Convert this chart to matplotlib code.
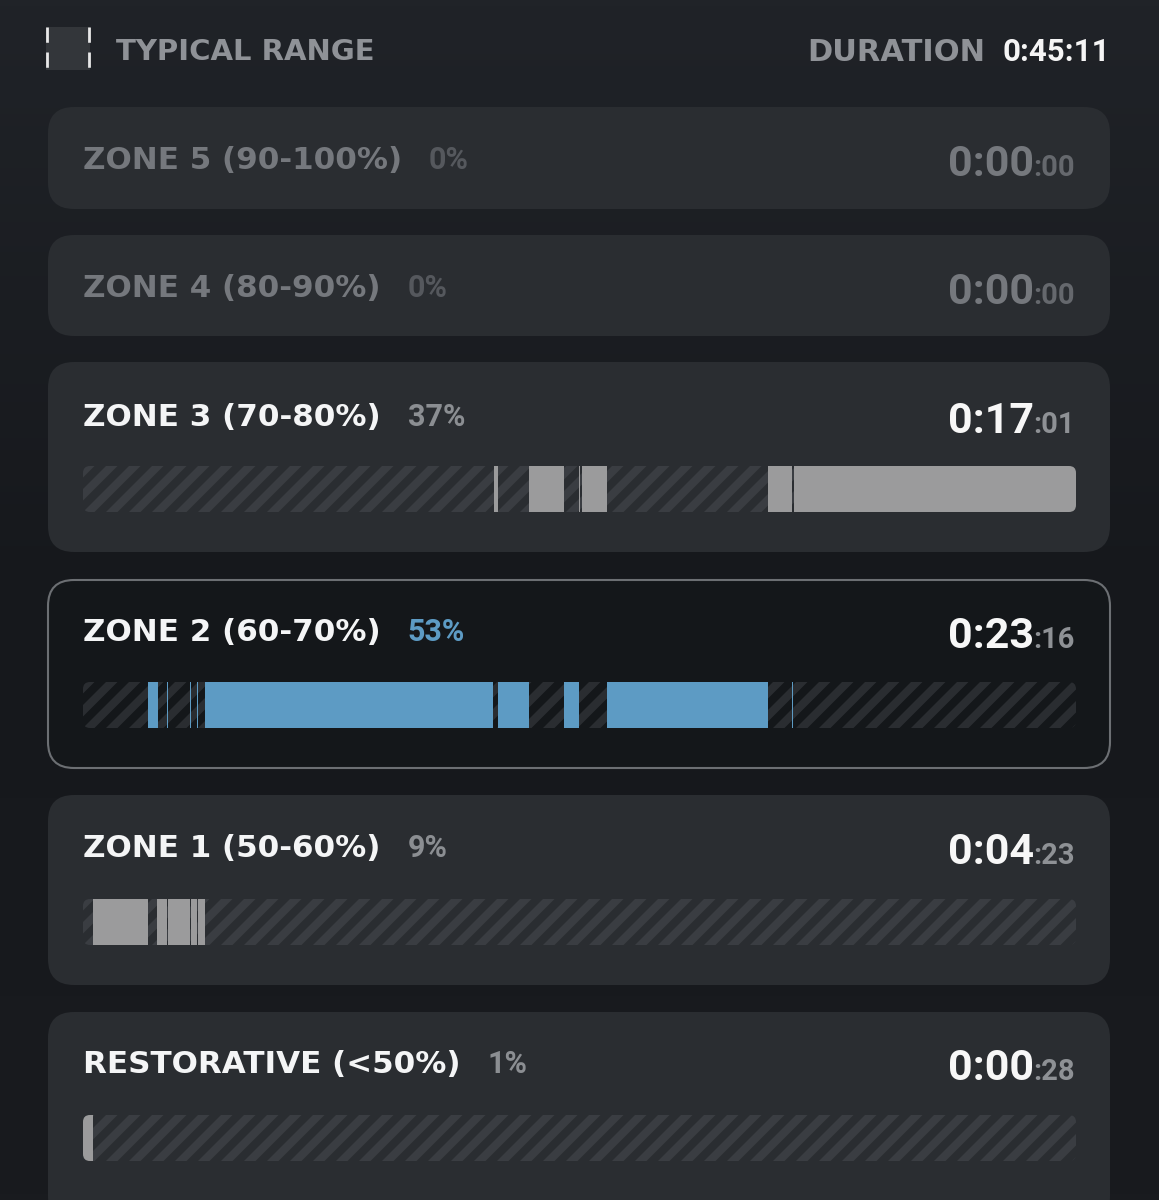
import numpy as np
import matplotlib
matplotlib.use('Agg')
import matplotlib.pyplot as plt
from matplotlib.patches import FancyBboxPatch, Polygon, Rectangle
from matplotlib.colors import LinearSegmentedColormap

# ---- data (seconds) ----
total_sec = 2711  # 0:45:11
zone_names = ['ZONE 5 (90-100%)', 'ZONE 4 (80-90%)', 'ZONE 3 (70-80%)',
              'ZONE 2 (60-70%)', 'ZONE 1 (50-60%)', 'RESTORATIVE (<50%)']
zone_pcts = ['0%', '0%', '37%', '53%', '9%', '1%']
zone_time_main = ['0:00', '0:00', '0:17', '0:23', '0:04', '0:00']
zone_time_sec = [':00', ':00', ':01', ':16', ':23', ':28']

z3_segs = [(1122, 1133), (1218, 1313), (1354, 1358), (1362, 1431),
           (1870, 1937), (1940, 2711)]
z2_segs = [(177, 205), (229, 232), (292, 295), (311, 314), (333, 1119),
           (1133, 1218), (1313, 1354), (1431, 1870), (1936, 1939)]
z1_segs = [(27, 177), (202, 229), (232, 292), (295, 311), (314, 333)]
rest_segs = [(0, 27)]
zone_segs = [None, None, z3_segs, z2_segs, z1_segs, rest_segs]

# ---- layout (pixels) ----
W, H = 1159, 1200
card_x0, card_x1 = 48, 1110
card_y = [(107, 209), (235, 336), (362, 552), (580, 768), (795, 985), (1012, 1222)]
label_base = [169, 297, 426, 641, 857, 1073]
bar_x0, bar_x1 = 83, 1076
bar_top = [None, None, 466, 682, 899, 1115]
bar_h = 46

BG = '#1b1e22'
CARD = '#2a2d31'
CARD_SEL = '#14171a'
GRAY_SEG = '#9b9b9c'
BLUE = '#5d9bc4'
LABEL_FONT = ['DejaVu Sans']
NUM_FONT = ['Roboto', 'DejaVu Sans']

fig = plt.figure(figsize=(W / 100, H / 100), dpi=100)
fig.patch.set_facecolor(BG)
canvas = fig.add_axes([0, 0, 1, 1])
canvas.set_xlim(0, W)
canvas.set_ylim(H, 0)
canvas.axis('off')

grad = np.linspace(0, 1, 200).reshape(-1, 1)
cmap = LinearSegmentedColormap.from_list('bg', ['#202328', '#16181c', '#191b1f'])
canvas.imshow(grad, extent=(0, W, H, 0), aspect='auto', cmap=cmap, zorder=0)

renderer = fig.canvas.get_renderer()


def rbox(x0, y0, x1, y1, r, **kw):
    p = FancyBboxPatch((x0, y0), x1 - x0, y1 - y0,
                       boxstyle='round,pad=0,rounding_size=%s' % r, **kw)
    canvas.add_patch(p)
    return p


def right_x(t):
    return t.get_window_extent(renderer).x1


def left_x(t):
    return t.get_window_extent(renderer).x0


# header
canvas.add_patch(Rectangle((46, 27), 44, 43, facecolor='#33363a', edgecolor='none', zorder=2))
for xx in (47, 89):
    canvas.plot([xx, xx], [27, 70], color='#e8e8e8', lw=2, dashes=(5.5, 3.5), zorder=3)
canvas.text(116, 60, 'TYPICAL RANGE', color='#8f9297', fontsize=21, fontweight='bold',
            family=LABEL_FONT, va='baseline', ha='left', zorder=3)
dur = canvas.text(1110, 61, '0:45:11', color='#f5f5f5', fontsize=22.5, fontweight='bold',
                  family=NUM_FONT, va='baseline', ha='right', zorder=3)
canvas.text(left_x(dur) - 17, 61, 'DURATION', color='#8f9297', fontsize=22,
            fontweight='bold', family=LABEL_FONT, va='baseline', ha='right', zorder=3)

for i, name in enumerate(zone_names):
    y0, y1 = card_y[i]
    selected = i == 3
    if selected:
        rbox(card_x0, y0, card_x1, y1, 26, facecolor=CARD_SEL, edgecolor='#6c6f73',
             lw=1.5, zorder=1)
    else:
        rbox(card_x0, y0, card_x1, y1, 26, facecolor=CARD, edgecolor='none', zorder=1)

    dim = i < 2
    lab_col = '#75787d' if dim else '#f4f5f6'
    pct_col = '#55585d' if dim else ('#5d9bc4' if selected else '#8b8e92')
    main_col = '#75787d' if dim else '#f7f7f7'
    sec_col = '#65686d' if dim else '#8e9195'

    base = label_base[i]
    lab = canvas.text(83, base, name, color=lab_col, fontsize=22.3, fontweight='bold',
                      family=LABEL_FONT, va='baseline', ha='left', zorder=3)
    canvas.text(right_x(lab) + 27, base, zone_pcts[i], color=pct_col, fontsize=22,
                fontweight='bold', family=NUM_FONT, va='baseline', ha='left', zorder=3)
    sec = canvas.text(1075, base + 7, zone_time_sec[i], color=sec_col, fontsize=21,
                      fontweight='bold', family=NUM_FONT, va='baseline', ha='right', zorder=3)
    canvas.text(left_x(sec) + 1, base + 7, zone_time_main[i], color=main_col, fontsize=31,
                fontweight='bold', family=NUM_FONT, va='baseline', ha='right', zorder=3)

    if zone_segs[i] is None:
        continue
    top = bar_top[i]
    bot = top + bar_h
    base_col = CARD_SEL if selected else CARD
    stripe_col = '#2a2d31' if selected else '#3a3d42'
    clip = rbox(bar_x0, top, bar_x1, bot, 7, facecolor=base_col, edgecolor='none', zorder=2)
    period, sw = 23, 11.5
    for k in range(-3, int((bar_x1 - bar_x0) / period) + 3):
        sx = bar_x0 - bar_h + k * period
        st = Polygon([(sx, bot), (sx + sw, bot), (sx + sw + bar_h, top), (sx + bar_h, top)],
                     closed=True, facecolor=stripe_col, edgecolor='none', zorder=2.5)
        canvas.add_patch(st)
        st.set_clip_path(clip)

    axb = fig.add_axes([bar_x0 / W, 1 - bot / H, (bar_x1 - bar_x0) / W, bar_h / H])
    axb.set_xlim(0, total_sec)
    axb.set_ylim(0, 1)
    axb.axis('off')
    axb.patch.set_alpha(0)
    segs = [(a, b - a) for a, b in zone_segs[i]]
    coll = axb.broken_barh(segs, (0, 1), facecolors=BLUE if selected else GRAY_SEG,
                           edgecolor='none')
    coll.set_clip_path(clip)

fig.savefig('out.png', dpi=100, facecolor=fig.get_facecolor())
